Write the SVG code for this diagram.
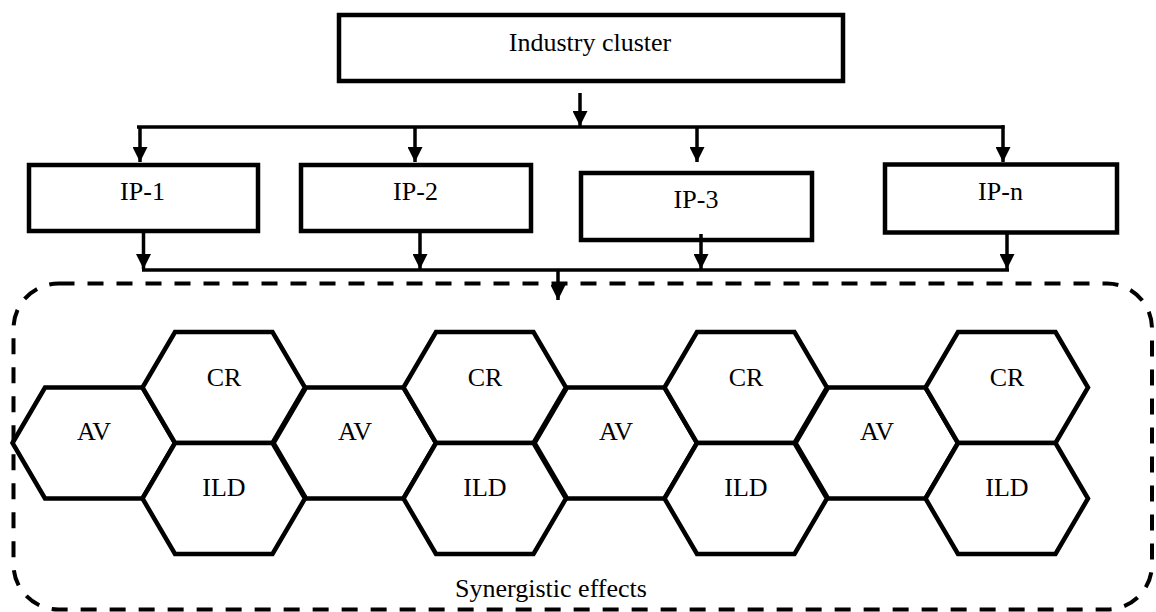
<svg xmlns="http://www.w3.org/2000/svg" width="1156" height="612" viewBox="0 0 1156 612">
<style>
.box{fill:#fff;stroke:#000;stroke-width:4.5}
.hex{fill:#fff;stroke:#000;stroke-width:4.5;stroke-linejoin:miter}
.ln{fill:none;stroke:#000;stroke-width:3.5}
.arr{fill:none;stroke:#000;stroke-width:3.5;marker-end:url(#ah)}
.dash{fill:none;stroke:#000;stroke-width:4;stroke-dasharray:16 13}
text{font-family:"Liberation Serif","Times New Roman",serif;font-size:26px;fill:#000;text-anchor:middle}
</style>
<defs>
<marker id="ah" markerUnits="userSpaceOnUse" markerWidth="15" markerHeight="15" refX="15" refY="7.5" orient="auto">
<path d="M0,0 L15,7.5 L0,15 z" fill="#000"/>
</marker>
</defs>
<rect width="1156" height="612" fill="#fff"/>
<g id="synergy">
<rect class="dash" x="13.5" y="283.5" width="1138.5" height="326" rx="45" ry="45"/>
<text x="551" y="597">Synergistic effects</text>
</g>
<g id="industry-cluster">
<rect class="box" x="339" y="15" width="504" height="66"/>
<text x="590" y="51">Industry cluster</text>
</g>
<g id="ip-1">
<rect class="box" x="29" y="165" width="229" height="66"/>
<text x="142.5" y="200">IP-1</text>
</g>
<g id="ip-2">
<rect class="box" x="301" y="165" width="230" height="66"/>
<text x="415.5" y="200">IP-2</text>
</g>
<g id="ip-3">
<rect class="box" x="581" y="173" width="231" height="67"/>
<text x="696" y="208">IP-3</text>
</g>
<g id="ip-n">
<rect class="box" x="885" y="164.5" width="232" height="68"/>
<text x="1000.5" y="200">IP-n</text>
</g>
<g id="connectors">
<line class="arr" x1="580" y1="93" x2="580" y2="126"/>
<line class="ln" x1="137" y1="127" x2="1004.5" y2="127"/>
<line class="arr" x1="140" y1="127" x2="140" y2="162"/>
<line class="arr" x1="415" y1="127" x2="415" y2="162"/>
<line class="arr" x1="697" y1="127" x2="697" y2="162"/>
<line class="arr" x1="1003" y1="125.25" x2="1003" y2="162"/>
<line class="arr" x1="143.5" y1="233" x2="143.5" y2="269"/>
<line class="arr" x1="420" y1="233" x2="420" y2="269"/>
<line class="arr" x1="701" y1="234" x2="701" y2="269"/>
<line class="arr" x1="1007" y1="234" x2="1007" y2="269"/>
<line class="ln" x1="142" y1="270" x2="1009" y2="270"/>
<line class="arr" x1="558" y1="270" x2="558" y2="300"/>
</g>
<g id="av-1"><polygon class="hex" points="12.5,443 45,387.5 142.5,387.5 175,443 142.5,498.5 45,498.5"/><text x="94" y="440">AV</text></g>
<g id="av-2"><polygon class="hex" points="273.5,443 306,387.5 403.5,387.5 436,443 403.5,498.5 306,498.5"/><text x="355" y="440">AV</text></g>
<g id="av-3"><polygon class="hex" points="534.5,443 567,387.5 664.5,387.5 697,443 664.5,498.5 567,498.5"/><text x="616" y="440">AV</text></g>
<g id="av-4"><polygon class="hex" points="795.5,443 828,387.5 925.5,387.5 958,443 925.5,498.5 828,498.5"/><text x="877" y="440">AV</text></g>
<g id="cr-1"><polygon class="hex" points="142.5,387.5 175,332 272.5,332 305,387.5 272.5,443 175,443"/><text x="224" y="386">CR</text></g>
<g id="cr-2"><polygon class="hex" points="403.5,387.5 436,332 533.5,332 566,387.5 533.5,443 436,443"/><text x="485" y="386">CR</text></g>
<g id="cr-3"><polygon class="hex" points="664.5,387.5 697,332 794.5,332 827,387.5 794.5,443 697,443"/><text x="746" y="386">CR</text></g>
<g id="cr-4"><polygon class="hex" points="925.5,387.5 958,332 1055.5,332 1088,387.5 1055.5,443 958,443"/><text x="1007" y="386">CR</text></g>
<g id="ild-1"><polygon class="hex" points="142.5,498.5 175,443 272.5,443 305,498.5 272.5,554 175,554"/><text x="224" y="496">ILD</text></g>
<g id="ild-2"><polygon class="hex" points="403.5,498.5 436,443 533.5,443 566,498.5 533.5,554 436,554"/><text x="485" y="496">ILD</text></g>
<g id="ild-3"><polygon class="hex" points="664.5,498.5 697,443 794.5,443 827,498.5 794.5,554 697,554"/><text x="746" y="496">ILD</text></g>
<g id="ild-4"><polygon class="hex" points="925.5,498.5 958,443 1055.5,443 1088,498.5 1055.5,554 958,554"/><text x="1007" y="496">ILD</text></g>
</svg>
